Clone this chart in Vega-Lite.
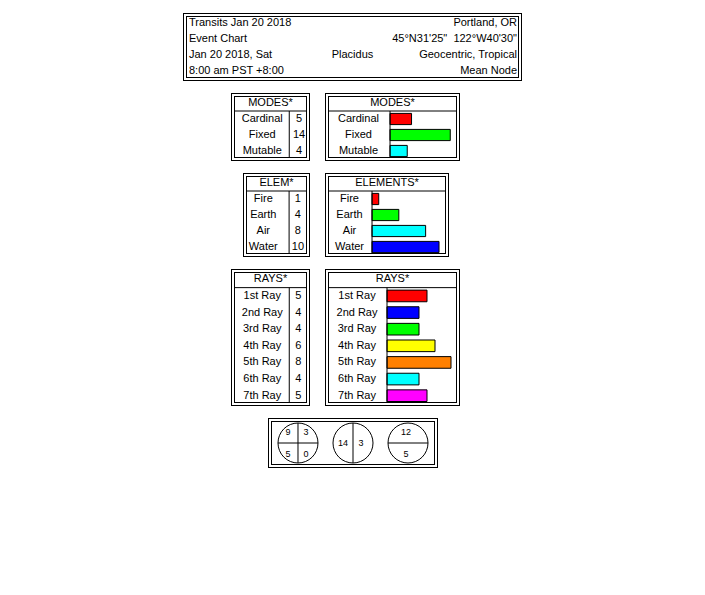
{
  "$schema": "https://vega.github.io/schema/vega-lite/v6.json",
  "background": "white",
  "padding": {"left": 182, "top": 12, "right": 5, "bottom": 5},
  "autosize": {"type": "pad"},
  "config": {
    "view": {"stroke": null},
    "text": {"font": "Liberation Sans", "fontSize": 11, "color": "black", "baseline": "middle"},
    "rule": {"color": "black", "strokeWidth": 1}
  },
  "datasets": {
    "header": [
      {"line": "1", "pos": "left", "text": "Transits Jan 20 2018"},
      {"line": "1", "pos": "right", "text": "Portland, OR"},
      {"line": "2", "pos": "left", "text": "Event Chart"},
      {"line": "2", "pos": "right", "text": "45°N31'25\"\u00a0 122°W40'30\""},
      {"line": "3", "pos": "left", "text": "Jan 20 2018, Sat"},
      {"line": "3", "pos": "center", "text": "Placidus"},
      {"line": "3", "pos": "right", "text": "Geocentric, Tropical"},
      {"line": "4", "pos": "left", "text": "8:00 am PST +8:00"},
      {"line": "4", "pos": "right", "text": "Mean Node"}
    ],
    "modes": [
      {"name": "Cardinal", "count": 5},
      {"name": "Fixed", "count": 14},
      {"name": "Mutable", "count": 4}
    ],
    "elements": [
      {"name": "Fire", "count": 1},
      {"name": "Earth", "count": 4},
      {"name": "Air", "count": 8},
      {"name": "Water", "count": 10}
    ],
    "rays": [
      {"name": "1st Ray", "count": 5},
      {"name": "2nd Ray", "count": 4},
      {"name": "3rd Ray", "count": 4},
      {"name": "4th Ray", "count": 6},
      {"name": "5th Ray", "count": 8},
      {"name": "6th Ray", "count": 4},
      {"name": "7th Ray", "count": 5}
    ],
    "circles": [{"circle": "a"}, {"circle": "b"}, {"circle": "c"}],
    "splits": [
      {"circle": "a", "dir": "v"},
      {"circle": "a", "dir": "h"},
      {"circle": "b", "dir": "v"},
      {"circle": "c", "dir": "h"}
    ],
    "hemis": [
      {"circle": "a", "v": "top", "h": "left", "n": 9},
      {"circle": "a", "v": "top", "h": "right", "n": 3},
      {"circle": "a", "v": "bottom", "h": "left", "n": 5},
      {"circle": "a", "v": "bottom", "h": "right", "n": 0},
      {"circle": "b", "v": "mid", "h": "left", "n": 14},
      {"circle": "b", "v": "mid", "h": "right", "n": 3},
      {"circle": "c", "v": "top", "h": "center", "n": 12},
      {"circle": "c", "v": "bottom", "h": "center", "n": 5}
    ]
  },
  "resolve": {"scale": {"color": "independent", "shape": "independent", "x": "independent", "y": "independent"}},
  "spacing": 10,
  "vconcat": [
    {
      "width": 335, "height": 64,
      "view": {"stroke": "black", "strokeWidth": 4},
      "layer": [
        {"data": {"name": "header"}, "transform": [{"filter": "datum.pos == 'left'"}],
         "mark": {"type": "text", "align": "left", "dx": 4},
         "encoding": {
           "x": {"field": "pos", "type": "nominal", "scale": {"type": "point", "domain": ["left", "center", "right"], "padding": 0}, "axis": null},
           "y": {"field": "line", "type": "ordinal", "scale": {"type": "band", "domain": ["1", "2", "3", "4"], "paddingInner": 0, "paddingOuter": 0}, "axis": null},
           "text": {"field": "text"}}},
        {"data": {"name": "header"}, "transform": [{"filter": "datum.pos == 'center'"}],
         "mark": {"type": "text", "align": "center"},
         "encoding": {"x": {"field": "pos", "type": "nominal"}, "y": {"field": "line", "type": "ordinal"}, "text": {"field": "text"}}},
        {"data": {"name": "header"}, "transform": [{"filter": "datum.pos == 'right'"}],
         "mark": {"type": "text", "align": "right", "dx": -3},
         "encoding": {"x": {"field": "pos", "type": "nominal"}, "y": {"field": "line", "type": "ordinal"}, "text": {"field": "text"}}},
        {"data": {"values": [{}]}, "mark": {"type": "rect", "filled": false, "stroke": "white", "strokeWidth": 2},
         "encoding": {"x": {"value": 0}, "x2": {"value": "width"}, "y": {"value": 0}, "y2": {"value": "height"}}}
      ]
    },
    {
      "bounds": "flush", "spacing": 19,
      "hconcat": [
        {"width": 29, "height": 1, "data": {"values": [{}]}, "mark": {"type": "point", "opacity": 0}, "encoding": {}},
        {
          "width": 75, "height": 64,
          "view": {"stroke": "black", "strokeWidth": 4},
          "layer": [
            {"data": {"name": "modes"}, "mark": {"type": "text"},
             "encoding": {
               "x": {"datum": 0.39, "type": "quantitative", "scale": {"domain": [0, 1], "nice": false, "zero": false}, "axis": null},
               "y": {"field": "name", "type": "nominal", "scale": {"type": "band", "domain": ["MODES*", "Cardinal", "Fixed", "Mutable"], "paddingInner": 0, "paddingOuter": 0}, "axis": null},
               "text": {"field": "name"}}},
            {"data": {"name": "modes"}, "mark": {"type": "text"},
             "encoding": {"x": {"datum": 0.88, "type": "quantitative"}, "y": {"field": "name", "type": "nominal"}, "text": {"field": "count"}}},
            {"data": {"values": [{}]}, "mark": {"type": "text"},
             "encoding": {"y": {"datum": "MODES*", "type": "nominal"}, "text": {"value": "MODES*"}}},
            {"data": {"values": [{}]}, "mark": {"type": "rule"},
             "encoding": {"y": {"datum": "Cardinal", "type": "nominal", "bandPosition": 0}}},
            {"data": {"values": [{}]}, "mark": {"type": "rule"},
             "encoding": {"x": {"datum": 0.75, "type": "quantitative"}, "y": {"datum": "Cardinal", "type": "nominal", "bandPosition": 0}, "y2": {"value": "height"}}},
            {"data": {"values": [{}]}, "mark": {"type": "rect", "filled": false, "stroke": "white", "strokeWidth": 2},
             "encoding": {"x": {"value": 0}, "x2": {"value": "width"}, "y": {"value": 0}, "y2": {"value": "height"}}}
          ]
        },
        {
          "width": 131, "height": 64,
          "view": {"stroke": "black", "strokeWidth": 4},
          "layer": [
            {"data": {"name": "modes"}, "mark": {"type": "text"},
             "encoding": {
               "x": {"datum": -7.33, "type": "quantitative", "scale": {"domain": [-14.65, 15.8], "nice": false, "zero": false}, "axis": null},
               "y": {"field": "name", "type": "nominal", "scale": {"type": "band", "domain": ["MODES*", "Cardinal", "Fixed", "Mutable"], "paddingInner": 0, "paddingOuter": 0}, "axis": null},
               "text": {"field": "name"}}},
            {"data": {"name": "modes"}, "mark": {"type": "bar", "stroke": "black", "strokeWidth": 1, "height": {"band": 0.7}},
             "encoding": {
               "x": {"field": "count", "type": "quantitative"}, "x2": {"datum": 0},
               "y": {"field": "name", "type": "nominal"},
               "color": {"field": "name", "type": "nominal", "scale": {"domain": ["Cardinal", "Fixed", "Mutable"], "range": ["#ff0000", "#00ff00", "#00ffff"]}, "legend": null}}},
            {"data": {"values": [{}]}, "mark": {"type": "text"},
             "encoding": {"y": {"datum": "MODES*", "type": "nominal"}, "text": {"value": "MODES*"}}},
            {"data": {"values": [{}]}, "mark": {"type": "rule"},
             "encoding": {"y": {"datum": "Cardinal", "type": "nominal", "bandPosition": 0}}},
            {"data": {"values": [{}]}, "mark": {"type": "rule"},
             "encoding": {"x": {"datum": 0, "type": "quantitative"}, "y": {"datum": "Cardinal", "type": "nominal", "bandPosition": 0}, "y2": {"value": "height"}}},
            {"data": {"values": [{}]}, "mark": {"type": "rect", "filled": false, "stroke": "white", "strokeWidth": 2},
             "encoding": {"x": {"value": 0}, "x2": {"value": "width"}, "y": {"value": 0}, "y2": {"value": "height"}}}
          ]
        }
      ]
    },
    {
      "bounds": "flush", "spacing": 19,
      "hconcat": [
        {"width": 41, "height": 1, "data": {"values": [{}]}, "mark": {"type": "point", "opacity": 0}, "encoding": {}},
        {
          "width": 63, "height": 80,
          "view": {"stroke": "black", "strokeWidth": 4},
          "layer": [
            {"data": {"name": "elements"}, "mark": {"type": "text"},
             "encoding": {
               "x": {"datum": 0.29, "type": "quantitative", "scale": {"domain": [0, 1], "nice": false, "zero": false}, "axis": null},
               "y": {"field": "name", "type": "nominal", "scale": {"type": "band", "domain": ["ELEM*", "Fire", "Earth", "Air", "Water"], "paddingInner": 0, "paddingOuter": 0}, "axis": null},
               "text": {"field": "name"}}},
            {"data": {"name": "elements"}, "mark": {"type": "text"},
             "encoding": {"x": {"datum": 0.84, "type": "quantitative"}, "y": {"field": "name", "type": "nominal"}, "text": {"field": "count"}}},
            {"data": {"values": [{}]}, "mark": {"type": "text"},
             "encoding": {"y": {"datum": "ELEM*", "type": "nominal"}, "text": {"value": "ELEM*"}}},
            {"data": {"values": [{}]}, "mark": {"type": "rule"},
             "encoding": {"y": {"datum": "Fire", "type": "nominal", "bandPosition": 0}}},
            {"data": {"values": [{}]}, "mark": {"type": "rule"},
             "encoding": {"x": {"datum": 0.70, "type": "quantitative"}, "y": {"datum": "Fire", "type": "nominal", "bandPosition": 0}, "y2": {"value": "height"}}},
            {"data": {"values": [{}]}, "mark": {"type": "rect", "filled": false, "stroke": "white", "strokeWidth": 2},
             "encoding": {"x": {"value": 0}, "x2": {"value": "width"}, "y": {"value": 0}, "y2": {"value": "height"}}}
          ]
        },
        {
          "width": 120, "height": 80,
          "view": {"stroke": "black", "strokeWidth": 4},
          "layer": [
            {"data": {"name": "elements"}, "mark": {"type": "text"},
             "encoding": {
               "x": {"datum": -3.36, "type": "quantitative", "scale": {"domain": [-6.72, 11.19], "nice": false, "zero": false}, "axis": null},
               "y": {"field": "name", "type": "nominal", "scale": {"type": "band", "domain": ["ELEMENTS*", "Fire", "Earth", "Air", "Water"], "paddingInner": 0, "paddingOuter": 0}, "axis": null},
               "text": {"field": "name"}}},
            {"data": {"name": "elements"}, "mark": {"type": "bar", "stroke": "black", "strokeWidth": 1, "height": {"band": 0.7}},
             "encoding": {
               "x": {"field": "count", "type": "quantitative"}, "x2": {"datum": 0},
               "y": {"field": "name", "type": "nominal"},
               "color": {"field": "name", "type": "nominal", "scale": {"domain": ["Fire", "Earth", "Air", "Water"], "range": ["#ff0000", "#00ff00", "#00ffff", "#0000ff"]}, "legend": null}}},
            {"data": {"values": [{}]}, "mark": {"type": "text"},
             "encoding": {"y": {"datum": "ELEMENTS*", "type": "nominal"}, "text": {"value": "ELEMENTS*"}}},
            {"data": {"values": [{}]}, "mark": {"type": "rule"},
             "encoding": {"y": {"datum": "Fire", "type": "nominal", "bandPosition": 0}}},
            {"data": {"values": [{}]}, "mark": {"type": "rule"},
             "encoding": {"x": {"datum": 0, "type": "quantitative"}, "y": {"datum": "Fire", "type": "nominal", "bandPosition": 0}, "y2": {"value": "height"}}},
            {"data": {"values": [{}]}, "mark": {"type": "rect", "filled": false, "stroke": "white", "strokeWidth": 2},
             "encoding": {"x": {"value": 0}, "x2": {"value": "width"}, "y": {"value": 0}, "y2": {"value": "height"}}}
          ]
        }
      ]
    },
    {
      "bounds": "flush", "spacing": 19,
      "hconcat": [
        {"width": 29, "height": 1, "data": {"values": [{}]}, "mark": {"type": "point", "opacity": 0}, "encoding": {}},
        {
          "width": 75, "height": 133,
          "view": {"stroke": "black", "strokeWidth": 4},
          "layer": [
            {"data": {"name": "rays"}, "mark": {"type": "text"},
             "encoding": {
               "x": {"datum": 0.39, "type": "quantitative", "scale": {"domain": [0, 1], "nice": false, "zero": false}, "axis": null},
               "y": {"field": "name", "type": "nominal", "scale": {"type": "band", "domain": ["RAYS*", "1st Ray", "2nd Ray", "3rd Ray", "4th Ray", "5th Ray", "6th Ray", "7th Ray"], "paddingInner": 0, "paddingOuter": 0}, "axis": null},
               "text": {"field": "name"}}},
            {"data": {"name": "rays"}, "mark": {"type": "text"},
             "encoding": {"x": {"datum": 0.87, "type": "quantitative"}, "y": {"field": "name", "type": "nominal"}, "text": {"field": "count"}}},
            {"data": {"values": [{}]}, "mark": {"type": "text"},
             "encoding": {"y": {"datum": "RAYS*", "type": "nominal"}, "text": {"value": "RAYS*"}}},
            {"data": {"values": [{}]}, "mark": {"type": "rule"},
             "encoding": {"y": {"datum": "1st Ray", "type": "nominal", "bandPosition": 0}}},
            {"data": {"values": [{}]}, "mark": {"type": "rule"},
             "encoding": {"x": {"datum": 0.75, "type": "quantitative"}, "y": {"datum": "1st Ray", "type": "nominal", "bandPosition": 0}, "y2": {"value": "height"}}},
            {"data": {"values": [{}]}, "mark": {"type": "rect", "filled": false, "stroke": "white", "strokeWidth": 2},
             "encoding": {"x": {"value": 0}, "x2": {"value": "width"}, "y": {"value": 0}, "y2": {"value": "height"}}}
          ]
        },
        {
          "width": 131, "height": 133,
          "view": {"stroke": "black", "strokeWidth": 4},
          "layer": [
            {"data": {"name": "rays"}, "mark": {"type": "text"},
             "encoding": {
               "x": {"datum": -3.75, "type": "quantitative", "scale": {"domain": [-7.5, 8.875], "nice": false, "zero": false}, "axis": null},
               "y": {"field": "name", "type": "nominal", "scale": {"type": "band", "domain": ["RAYS*", "1st Ray", "2nd Ray", "3rd Ray", "4th Ray", "5th Ray", "6th Ray", "7th Ray"], "paddingInner": 0, "paddingOuter": 0}, "axis": null},
               "text": {"field": "name"}}},
            {"data": {"name": "rays"}, "mark": {"type": "bar", "stroke": "black", "strokeWidth": 1, "height": {"band": 0.7}},
             "encoding": {
               "x": {"field": "count", "type": "quantitative"}, "x2": {"datum": 0},
               "y": {"field": "name", "type": "nominal"},
               "color": {"field": "name", "type": "nominal", "scale": {"domain": ["1st Ray", "2nd Ray", "3rd Ray", "4th Ray", "5th Ray", "6th Ray", "7th Ray"], "range": ["#ff0000", "#0000ff", "#00ff00", "#ffff00", "#ff8000", "#00ffff", "#ff00ff"]}, "legend": null}}},
            {"data": {"values": [{}]}, "mark": {"type": "text"},
             "encoding": {"y": {"datum": "RAYS*", "type": "nominal"}, "text": {"value": "RAYS*"}}},
            {"data": {"values": [{}]}, "mark": {"type": "rule"},
             "encoding": {"y": {"datum": "1st Ray", "type": "nominal", "bandPosition": 0}}},
            {"data": {"values": [{}]}, "mark": {"type": "rule"},
             "encoding": {"x": {"datum": 0, "type": "quantitative"}, "y": {"datum": "1st Ray", "type": "nominal", "bandPosition": 0}, "y2": {"value": "height"}}},
            {"data": {"values": [{}]}, "mark": {"type": "rect", "filled": false, "stroke": "white", "strokeWidth": 2},
             "encoding": {"x": {"value": 0}, "x2": {"value": "width"}, "y": {"value": 0}, "y2": {"value": "height"}}}
          ]
        }
      ]
    },
    {
      "bounds": "flush", "spacing": 19,
      "hconcat": [
        {"width": 66, "height": 1, "data": {"values": [{}]}, "mark": {"type": "point", "opacity": 0}, "encoding": {}},
        {
          "width": 166, "height": 46,
          "view": {"stroke": "black", "strokeWidth": 4},
          "layer": [
            {"data": {"name": "circles"}, "mark": {"type": "point", "shape": "circle", "size": 1600, "filled": false, "stroke": "black", "strokeWidth": 1, "opacity": 1},
             "encoding": {"x": {"field": "circle", "type": "nominal", "scale": {"type": "point", "domain": ["a", "b", "c"], "padding": 0.509}, "axis": null}}},
            {"data": {"name": "splits"}, "mark": {"type": "point", "size": 1600, "filled": false, "stroke": "black", "strokeWidth": 1, "opacity": 1},
             "encoding": {"x": {"field": "circle", "type": "nominal"},
               "shape": {"field": "dir", "type": "nominal", "scale": {"domain": ["v", "h"], "range": ["M0,-1L0,1", "M-1,0L1,0"]}, "legend": null}}},
            {"data": {"name": "hemis"}, "transform": [{"filter": "datum.h == 'left'"}],
             "mark": {"type": "text", "dx": -10, "fontSize": 9},
             "encoding": {"x": {"field": "circle", "type": "nominal"},
               "y": {"field": "v", "type": "nominal", "scale": {"type": "point", "domain": ["top", "mid", "bottom"], "range": [12, 34], "padding": 0}, "axis": null},
               "text": {"field": "n"}}},
            {"data": {"name": "hemis"}, "transform": [{"filter": "datum.h == 'right'"}],
             "mark": {"type": "text", "dx": 8, "fontSize": 9},
             "encoding": {"x": {"field": "circle", "type": "nominal"}, "y": {"field": "v", "type": "nominal"}, "text": {"field": "n"}}},
            {"data": {"name": "hemis"}, "transform": [{"filter": "datum.h == 'center'"}],
             "mark": {"type": "text", "dx": -2, "fontSize": 9},
             "encoding": {"x": {"field": "circle", "type": "nominal"}, "y": {"field": "v", "type": "nominal"}, "text": {"field": "n"}}},
            {"data": {"values": [{}]}, "mark": {"type": "rect", "filled": false, "stroke": "white", "strokeWidth": 2},
             "encoding": {"x": {"value": 0}, "x2": {"value": "width"}, "y": {"value": 0}, "y2": {"value": "height"}}}
          ]
        }
      ]
    }
  ]
}
